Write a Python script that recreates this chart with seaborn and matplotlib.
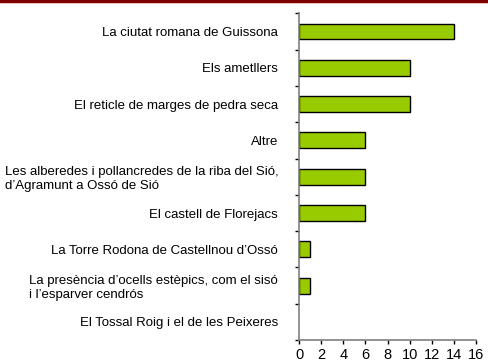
import matplotlib
matplotlib.use("Agg")
import matplotlib.pyplot as plt
import seaborn as sns
import pandas as pd

categories = [
    "La ciutat romana de Guissona",
    "Els ametllers",
    "El reticle de marges de pedra seca",
    "Altre",
    "Les alberedes i pollancredes de la riba del Sió,\nd’Agramunt a Ossó de Sió",
    "El castell de Florejacs",
    "La Torre Rodona de Castellnou d’Ossó",
    "La presència d’ocells estèpics, com el sisó\ni l’esparver cendrós",
    "El Tossal Roig i el de les Peixeres",
]
values = [14, 10, 10, 6, 6, 6, 1, 1, 0]
x_ticks = [0, 2, 4, 6, 8, 10, 12, 14, 16]

df = pd.DataFrame({"categoria": categories, "valor": values})

sns.set_theme(style="white")
plt.rcParams["font.family"] = ["Liberation Sans", "DejaVu Sans"]

fig = plt.figure(figsize=(4.89, 3.61), dpi=100)
ax = fig.add_axes([0.6115, 0.058, 0.362, 0.905])

sns.barplot(data=df, y="categoria", x="valor", orient="h", color="#99CC00",
            edgecolor="black", linewidth=1.0, width=0.44, saturation=1, ax=ax)

# an empty category draws no bar outline
for patch in ax.patches:
    if patch.get_width() == 0:
        patch.set_visible(False)

ax.set_xlim(0, 16)
ax.set_ylim(len(categories) - 0.5, -0.5)
ax.set_xticks(x_ticks)
ax.set_xticklabels([str(t) for t in x_ticks])
ax.set_xlabel("")
ax.set_ylabel("")

for side in ("top", "right"):
    ax.spines[side].set_visible(False)
for side in ("left", "bottom"):
    ax.spines[side].set_color("#808080")
    ax.spines[side].set_linewidth(1.2)

# category boundary ticks on the y axis
ax.set_yticks([i + 0.5 for i in range(-1, len(categories))], minor=True)
ax.tick_params(axis="y", which="minor", length=3, width=1, color="black", left=True)
ax.tick_params(axis="y", which="major", length=0, pad=15, labelsize=9.5, colors="black")
ax.tick_params(axis="x", which="major", length=3, width=1, color="black", bottom=True,
               labelsize=10.5, colors="black", pad=3)
for lab in ax.get_yticklabels():
    lab.set_multialignment("left")

# dark red rule along the top edge
fig.add_artist(plt.Line2D([0, 1], [0.997, 0.997], color="#800000", linewidth=2.5,
                          transform=fig.transFigure))

fig.savefig("out.png", dpi=100)
